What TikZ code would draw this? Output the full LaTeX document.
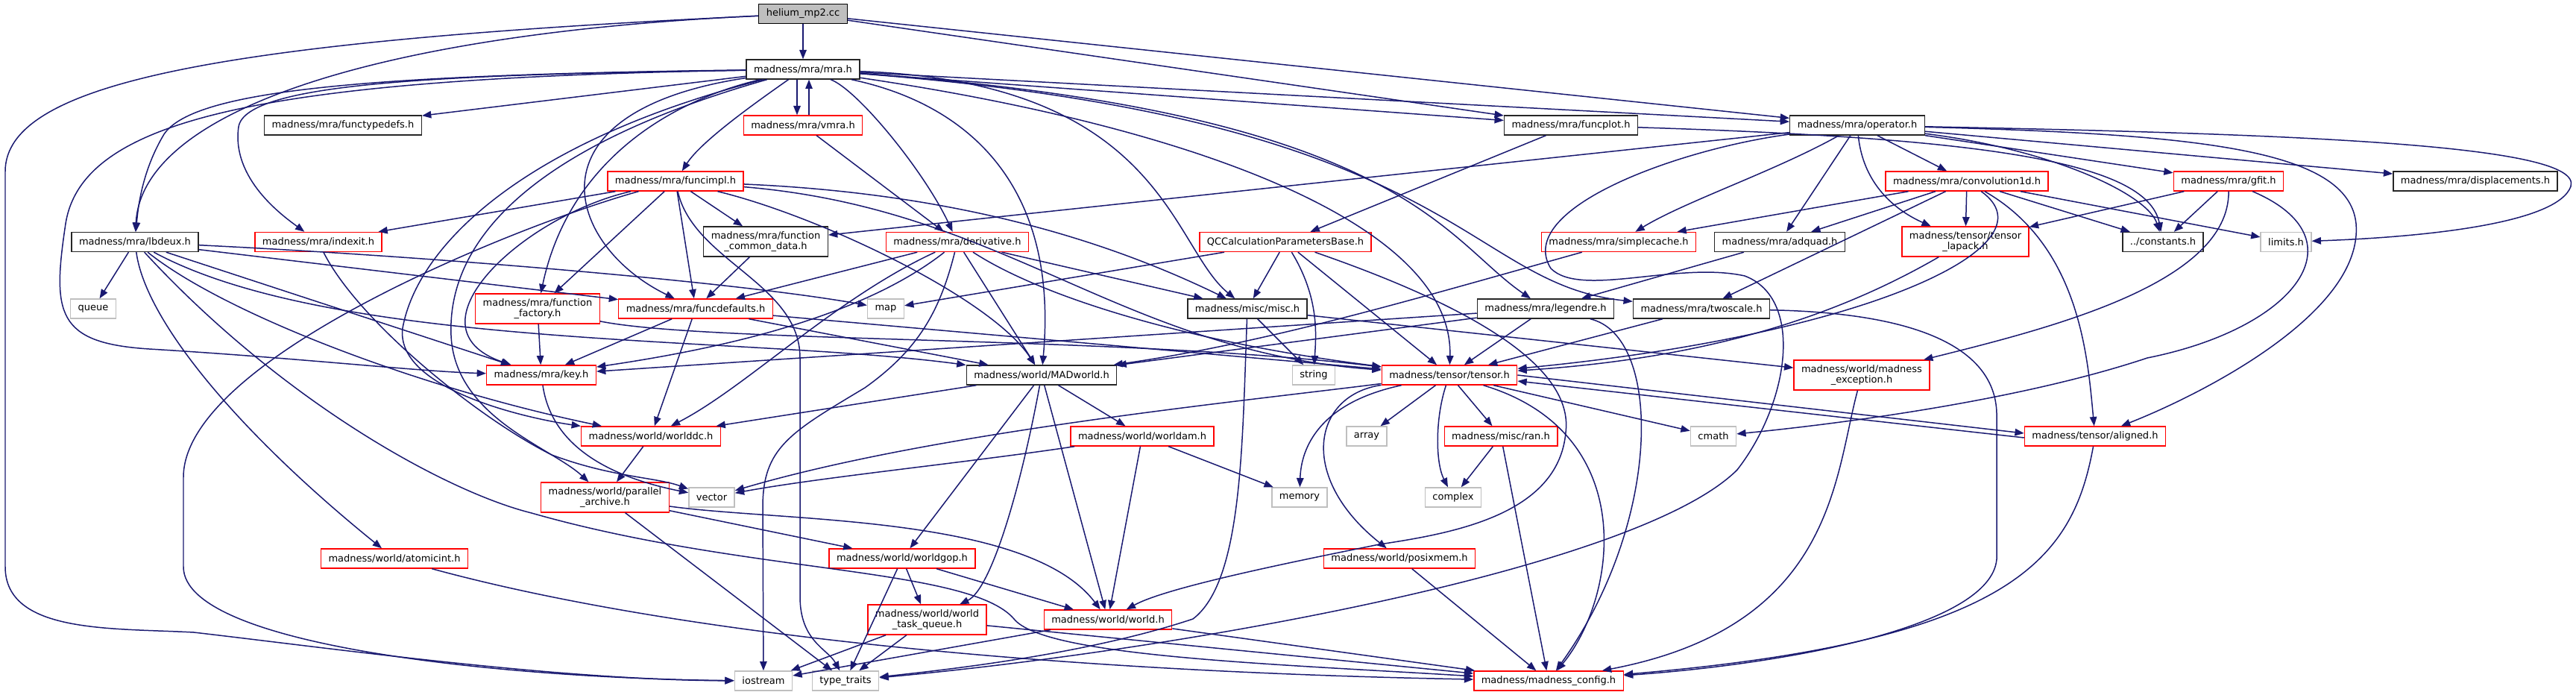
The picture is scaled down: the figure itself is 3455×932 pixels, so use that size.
\documentclass[tikz,border=0pt]{standalone}
\usepackage{fontspec}
\setmainfont{DejaVu Sans}
\usetikzlibrary{arrows.meta}
\definecolor{edgeblue}{RGB}{25,25,112}
\definecolor{boxgray}{RGB}{191,191,191}
\definecolor{boxred}{RGB}{255,0,0}

\begin{document}
\begin{tikzpicture}[x=0.02cm, y=-0.02cm,
    box/.style={line width=0.8pt, fill=white, inner xsep=0.2cm, inner ysep=0pt, minimum height=0.52cm, align=center, font=\fontsize{7.4}{8}\selectfont},
    root/.style={box, draw=black, fill=boxgray},
    hdr/.style={box, draw=black!85},
    trunc/.style={box, draw=boxred},
    sys/.style={box, draw=boxgray},
    tall/.style={minimum height=0.8cm},
    dep/.style={draw=edgeblue, line width=0.85pt, -{Triangle[length=7pt,width=5.4pt]}}]
    \useasboundingbox (0,0) rectangle (3455,932);

    \node[root] (helium) at (1077,18.5) {helium\_mp2.cc};
    \node[hdr] (mra) at (1077,93) {madness/mra/mra.h};
    \node[hdr] (functypedefs) at (460,168) {madness/mra/functypedefs.h};
    \node[trunc] (vmra) at (1077,168) {madness/mra/vmra.h};
    \node[hdr] (funcplot) at (2107,168) {madness/mra/funcplot.h};
    \node[hdr] (operator) at (2491,168) {madness/mra/operator.h};
    \node[trunc] (funcimpl) at (906,243) {madness/mra/funcimpl.h};
    \node[trunc] (conv) at (2638,243) {madness/mra/convolution1d.h};
    \node[trunc] (gfit) at (2989,243) {madness/mra/gfit.h};
    \node[hdr] (displ) at (3320,243) {madness/mra/displacements.h};
    \node[hdr] (lbdeux) at (181,324.5) {madness/mra/lbdeux.h};
    \node[trunc] (indexit) at (427,324.5) {madness/mra/indexit.h};
    \node[hdr, tall] (fcd) at (1027,324) {madness/mra/function\\\_common\_data.h};
    \node[trunc] (deriv) at (1284,324.5) {madness/mra/derivative.h};
    \node[trunc] (qccalc) at (1724,324.5) {QCCalculationParametersBase.h};
    \node[trunc] (scache) at (2171,324.5) {madness/mra/simplecache.h};
    \node[hdr] (adquad) at (2387,324.5) {madness/mra/adquad.h};
    \node[trunc, tall] (tlapack) at (2636,324) {madness/tensor/tensor\\\_lapack.h};
    \node[hdr] (constants) at (2901,324.5) {../constants.h};
    \node[sys] (limits) at (3066,324.5) {limits.h};
    \node[sys] (queue) at (125,414) {queue};
    \node[trunc, tall] (ffactory) at (721,414) {madness/mra/function\\\_factory.h};
    \node[trunc] (fdefaults) at (933,414) {madness/mra/funcdefaults.h};
    \node[sys] (map) at (1188,414) {map};
    \node[hdr] (misc) at (1673,414) {madness/misc/misc.h};
    \node[hdr] (legendre) at (2073,414) {madness/mra/legendre.h};
    \node[hdr] (twoscale) at (2282,414) {madness/mra/twoscale.h};
    \node[trunc] (key) at (726,503) {madness/mra/key.h};
    \node[hdr] (madworld) at (1397,503) {madness/world/MADworld.h};
    \node[sys] (string) at (1762,503) {string};
    \node[trunc] (tensor) at (1944,503) {madness/tensor/tensor.h};
    \node[trunc, tall] (mexc) at (2497,503) {madness/world/madness\\\_exception.h};
    \node[trunc] (worlddc) at (873,585) {madness/world/worlddc.h};
    \node[trunc] (worldam) at (1532,585) {madness/world/worldam.h};
    \node[sys] (array) at (1833,585) {array};
    \node[trunc] (ran) at (2013,585) {madness/misc/ran.h};
    \node[sys] (cmath) at (2298,585) {cmath};
    \node[trunc] (aligned) at (2810,585) {madness/tensor/aligned.h};
    \node[trunc, tall] (parchive) at (811.5,667) {madness/world/parallel\\\_archive.h};
    \node[sys] (vector) at (954.5,667) {vector};
    \node[sys] (memory) at (1743,667) {memory};
    \node[sys] (complex) at (1949,667) {complex};
    \node[trunc] (atomicint) at (529,749) {madness/world/atomicint.h};
    \node[trunc] (worldgop) at (1210,749) {madness/world/worldgop.h};
    \node[trunc] (posixmem) at (1877,749) {madness/world/posixmem.h};
    \node[trunc, tall] (wtq) at (1243.5,831) {madness/world/world\\\_task\_queue.h};
    \node[trunc] (world) at (1486,831) {madness/world/world.h};
    \node[sys] (iostream) at (1024,913) {iostream};
    \node[sys] (ttraits) at (1134,913) {type\_traits};
    \node[trunc] (config) at (2077,913) {madness/madness\_config.h};

    % helium_mp2.cc
    \draw[dep] (helium) -- (mra);
    \draw[dep] (helium) .. controls (500,45) and (190,150) .. (lbdeux);
    \draw[dep] (helium) .. controls (300,55) and (7,110) .. (7,230) -- (7,760) .. controls (7,850) and (150,842) .. (260,848) .. controls (450,870) and (750,912) .. (iostream);
    \draw[dep] (helium) -- (funcplot);
    \draw[dep] (helium) -- (operator);

    % mra.h
    \draw[dep] (mra) -- (functypedefs);
    \draw[dep] ([xshift=-0.16cm]mra.south) -- ([xshift=-0.16cm]vmra.north);
    \draw[dep] ([xshift=0.16cm]vmra.north) -- ([xshift=0.16cm]mra.south);
    \draw[dep] (mra) .. controls (1010,140) and (940,190) .. (funcimpl);
    \draw[dep] (mra) .. controls (500,100) and (260,120) .. (220,180) .. controls (190,230) and (185,280) .. (lbdeux);
    \draw[dep] (mra) .. controls (600,100) and (330,110) .. (320,170) .. controls (310,240) and (380,290) .. (indexit);
    \draw[dep] (mra) .. controls (350,105) and (110,160) .. (88,300) .. controls (70,420) and (75,460) .. (200,468) .. controls (400,480) and (560,498) .. (key);
    \draw[dep] (mra) .. controls (700,200) and (600,330) .. (605,450) .. controls (610,560) and (740,600) .. (parchive);
    \draw[dep] (mra) .. controls (700,190) and (560,330) .. (540,440) .. controls (530,520) and (700,560) .. (worlddc);
    \draw[dep] (mra) .. controls (880,140) and (760,230) .. (ffactory);
    \draw[dep] (mra) .. controls (700,150) and (760,330) .. (fdefaults);
    \draw[dep] (mra) .. controls (1150,120) and (1240,230) .. (deriv);
    \draw[dep] (mra) .. controls (1300,140) and (1420,250) .. (madworld);
    \draw[dep] (mra) .. controls (1560,110) and (1570,330) .. (misc);
    \draw[dep] (mra) .. controls (1600,170) and (1950,300) .. (tensor);
    \draw[dep] (mra) -- (funcplot);
    \draw[dep] (mra) -- (operator);
    \draw[dep] (mra) .. controls (1880,150) and (1935,320) .. (legendre);
    \draw[dep] (mra) .. controls (1960,160) and (1960,380) .. (twoscale);

    \draw[dep] (vmra) -- (deriv);

    % funcimpl.h
    \draw[dep] (funcimpl) -- (indexit);
    \draw[dep] (funcimpl) -- (fcd);
    \draw[dep] (funcimpl) -- (ffactory);
    \draw[dep] (funcimpl) -- (fdefaults);
    \draw[dep] (funcimpl) .. controls (700,290) and (540,440) .. (key);
    \draw[dep] (funcimpl) .. controls (1100,290) and (1330,400) .. (madworld);
    \draw[dep] (funcimpl) .. controls (1300,260) and (1500,330) .. (misc);
    \draw[dep] (funcimpl) .. controls (1350,280) and (1500,470) .. (tensor);
    \draw[dep] (funcimpl) .. controls (700,300) and (246,480) .. (246,640) -- (246,760) .. controls (246,870) and (700,910) .. (iostream);
    \draw[dep] (funcimpl) .. controls (930,350) and (1073,380) .. (1073,480) -- (1073,800) .. controls (1073,860) and (1110,870) .. (ttraits);

    % lbdeux.h
    \draw[dep] (lbdeux) -- (queue);
    \draw[dep] (lbdeux) .. controls (600,345) and (1000,380) .. (map);
    \draw[dep] (lbdeux) -- (fdefaults);
    \draw[dep] (lbdeux) -- (key);
    \draw[dep] (lbdeux) .. controls (300,420) and (560,520) .. (worlddc);
    \draw[dep] (lbdeux) .. controls (450,470) and (1000,450) .. (madworld);
    \draw[dep] (lbdeux) .. controls (195,430) and (320,580) .. (atomicint);
    \draw[dep] (lbdeux) .. controls (380,540) and (600,660) .. (713,688) .. controls (1000,770) and (1300,760) .. (1360,830) .. controls (1400,880) and (1700,890) .. (config);

    \draw[dep] (indexit) .. controls (480,430) and (640,560) .. (740,610) .. controls (820,640) and (880,640) .. (vector);
    \draw[dep] (fcd) -- (fdefaults);
    \draw[dep] (ffactory) -- (key);
    \draw[dep] (ffactory) .. controls (950,460) and (1500,450) .. (tensor);
    \draw[dep] (fdefaults) -- (key);
    \draw[dep] (fdefaults) -- (worlddc);
    \draw[dep] (fdefaults) -- (madworld);
    \draw[dep] (fdefaults) -- (tensor);

    % derivative.h
    \draw[dep] (deriv) -- (fdefaults);
    \draw[dep] (deriv) .. controls (1150,430) and (950,470) .. (key);
    \draw[dep] (deriv) .. controls (1120,400) and (1000,520) .. (worlddc);
    \draw[dep] (deriv) -- (madworld);
    \draw[dep] (deriv) -- (misc);
    \draw[dep] (deriv) .. controls (1400,400) and (1600,460) .. (tensor);
    \draw[dep] (deriv) .. controls (1260,420) and (1230,470) .. (1160,520) .. controls (1060,580) and (1023,600) .. (1023,680) -- (iostream);

    % QCCalculationParametersBase.h
    \draw[dep] (qccalc) -- (map);
    \draw[dep] (qccalc) -- (misc);
    \draw[dep] (qccalc) .. controls (1770,400) and (1765,450) .. (string);
    \draw[dep] (qccalc) -- (tensor);
    \draw[dep] (qccalc) .. controls (2000,420) and (2110,500) .. (2100,580) .. controls (2090,690) and (1950,715) .. (1850,730) .. controls (1700,760) and (1560,790) .. (world);

    \draw[dep] (funcplot) -- (qccalc);
    \draw[dep] (funcplot) .. controls (2650,185) and (2880,215) .. (constants);

    % operator.h
    \draw[dep] (operator) -- (fcd);
    \draw[dep] (operator) -- (conv);
    \draw[dep] (operator) -- (gfit);
    \draw[dep] (operator) -- (displ);
    \draw[dep] (operator) .. controls (3100,180) and (3465,195) .. (3448,250) .. controls (3430,300) and (3250,318) .. (limits);
    \draw[dep] (operator) .. controls (2750,200) and (2880,260) .. (constants);
    \draw[dep] (operator) -- (adquad);
    \draw[dep] (operator) .. controls (2500,260) and (2560,290) .. (tlapack);
    \draw[dep] (operator) .. controls (2380,230) and (2260,270) .. (scache);
    \draw[dep] (operator) .. controls (2950,180) and (3150,200) .. (3160,300) .. controls (3170,420) and (2950,530) .. (aligned);
    \draw[dep] (operator) .. controls (2250,200) and (2030,280) .. (2080,360) .. controls (2120,400) and (2250,350) .. (2340,370) .. controls (2420,400) and (2400,540) .. (2330,630) .. controls (2200,760) and (1600,870) .. (ttraits);

    % convolution1d.h
    \draw[dep] (conv) -- (adquad);
    \draw[dep] (conv) -- (tlapack);
    \draw[dep] (conv) -- (constants);
    \draw[dep] (conv) -- (limits);
    \draw[dep] (conv) -- (scache);
    \draw[dep] (conv) -- (twoscale);
    \draw[dep] (conv) .. controls (2760,330) and (2500,450) .. (tensor);
    \draw[dep] (conv) .. controls (2790,330) and (2800,480) .. (aligned);

    % gfit.h
    \draw[dep] (gfit) -- (tlapack);
    \draw[dep] (gfit) -- (constants);
    \draw[dep] (gfit) .. controls (2990,380) and (2750,440) .. (mexc);
    \draw[dep] (gfit) .. controls (3170,320) and (3080,440) .. (2880,480) .. controls (2700,540) and (2450,570) .. (cmath);

    \draw[dep] (tlapack) .. controls (2470,420) and (2300,480) .. (tensor);
    \draw[dep] (adquad) -- (legendre);
    \draw[dep] (scache) .. controls (1900,400) and (1700,460) .. (madworld);

    % legendre.h, twoscale.h
    \draw[dep] (legendre) -- (madworld);
    \draw[dep] (legendre) -- (tensor);
    \draw[dep] (legendre) -- (key);
    \draw[dep] (legendre) .. controls (2230,450) and (2230,700) .. (config);
    \draw[dep] (twoscale) -- (tensor);
    \draw[dep] (twoscale) .. controls (2600,420) and (2680,480) .. (2678,560) -- (2678,750) .. controls (2670,840) and (2400,890) .. (config);

    % misc.h
    \draw[dep] (misc) -- (string);
    \draw[dep] (misc) -- (mexc);
    \draw[dep] (misc) .. controls (1666,600) and (1666,780) .. (1600,830) .. controls (1450,880) and (1250,900) .. (ttraits);

    % MADworld.h
    \draw[dep] (madworld) -- (worlddc);
    \draw[dep] (madworld) -- (worldam);
    \draw[dep] (madworld) -- (worldgop);
    \draw[dep] (madworld) .. controls (1370,650) and (1330,790) .. (wtq);
    \draw[dep] (madworld) -- (world);

    % tensor.h
    \draw[dep] (tensor) .. controls (1650,540) and (1250,580) .. (vector);
    \draw[dep] (tensor) .. controls (1770,540) and (1745,600) .. (memory);
    \draw[dep] (tensor) -- (array);
    \draw[dep] (tensor) -- (ran);
    \draw[dep] (tensor) .. controls (1925,560) and (1925,620) .. (complex);
    \draw[dep] (tensor) .. controls (1760,530) and (1740,640) .. (posixmem);
    \draw[dep] (tensor) .. controls (2200,580) and (2170,800) .. (config);
    \draw[dep] (tensor) -- (cmath);
    \draw[dep] (tensor.east) -- ([yshift=0.08cm]aligned.west);
    \draw[dep] ([yshift=-0.04cm]aligned.west) -- ([yshift=-0.16cm]tensor.east);

    \draw[dep] (aligned) .. controls (2780,750) and (2700,860) .. (config);
    \draw[dep] (mexc) .. controls (2460,640) and (2460,840) .. (config);

    % world
    \draw[dep] (key) .. controls (740,600) and (820,640) .. (vector);
    \draw[dep] (worlddc) -- (parchive);
    \draw[dep] (parchive) -- (ttraits);
    \draw[dep] (parchive) -- (worldgop);
    \draw[dep] (parchive) .. controls (1050,700) and (1380,690) .. (world);
    \draw[dep] (worldam) .. controls (1300,620) and (1100,640) .. (vector);
    \draw[dep] (worldam) -- (memory);
    \draw[dep] (worldam) -- (world);
    \draw[dep] (worldgop) -- (wtq);
    \draw[dep] (worldgop) -- (world);
    \draw[dep] (worldgop) -- (ttraits);
    \draw[dep] (wtq) -- (iostream);
    \draw[dep] (wtq) -- (ttraits);
    \draw[dep] (wtq) -- (config);
    \draw[dep] (world) -- (iostream);
    \draw[dep] (world) -- (config);
    \draw[dep] (posixmem) -- (config);
    \draw[dep] (ran) -- (complex);
    \draw[dep] (ran) -- (config);
    \draw[dep] (atomicint) .. controls (900,850) and (1400,900) .. (config);
\end{tikzpicture}
\end{document}
